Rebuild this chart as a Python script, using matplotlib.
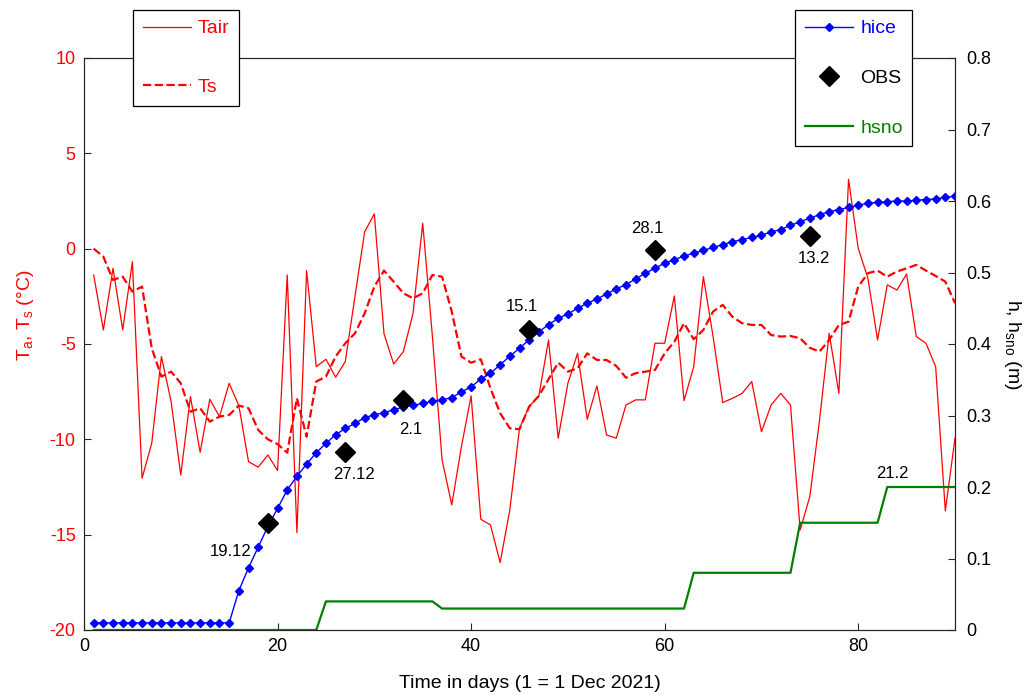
import matplotlib
matplotlib.use('Agg')
import matplotlib.pyplot as plt
import numpy as np

plt.rcParams['font.family'] = ['Liberation Sans', 'DejaVu Sans']
plt.rcParams['mathtext.default'] = 'regular'
plt.rcParams['axes.unicode_minus'] = False

# ---------------- data ----------------
days = list(range(1, 91))

tair = [-1.38, -4.26, -1.03, -4.26, -0.68, -12.04, -10.2, -5.66, -8.02, -11.87,
        -7.76, -10.68, -7.9, -8.81, -7.06, -8.23, -11.17, -11.46, -10.82, -11.64,
        -1.38, -14.89, -1.15, -6.19, -5.8, -6.74, -5.92, -2.5, 0.89, 1.82,
        -4.47, -6.05, -5.4, -3.39, 1.33, -4.6, -11.08, -13.44, -10.38, -7.72,
        -14.19, -14.49, -16.46, -13.7, -9.42, -8.28, -7.72, -4.79, -9.94, -7.06,
        -5.49, -8.95, -7.2, -9.77, -9.94, -8.2, -7.93, -7.93, -4.96, -4.96,
        -2.48, -7.97, -6.19, -1.47, -4.6, -8.07, -7.85, -7.59, -6.97, -9.6,
        -8.2, -7.59, -8.2, -14.75, -13.0, -9.0, -4.44, -7.59, 3.64, 0.02,
        -1.55, -4.79, -1.9, -2.17, -1.33, -4.61, -4.96, -6.19, -13.75, -9.94]

ts = [0.0, -0.42, -1.64, -1.47, -2.25, -1.99, -5.22, -6.71, -6.45, -7.06,
      -8.55, -8.37, -9.07, -8.81, -8.72, -8.23, -8.37, -9.51, -10.0, -10.25,
      -10.7, -7.85, -9.86, -6.97, -6.71, -5.66, -4.96, -4.44, -3.39, -1.99,
      -1.15, -1.73, -2.34, -2.6, -2.34, -1.38, -1.47, -3.3, -5.66, -5.98,
      -5.8, -7.32, -8.63, -9.42, -9.47, -8.28, -7.72, -6.85, -5.98, -6.45,
      -6.27, -5.49, -5.84, -5.84, -6.15, -6.77, -6.53, -6.45, -6.36, -5.49,
      -4.88, -3.91, -4.75, -4.26, -3.3, -2.95, -3.57, -3.91, -4.0, -4.0,
      -4.53, -4.61, -4.58, -4.7, -5.2, -5.4, -4.79, -4.0, -3.83, -1.99,
      -1.29, -1.15, -1.47, -1.2, -1.03, -0.85, -1.15, -1.43, -1.73, -2.86]

hice = [0.010, 0.010, 0.010, 0.010, 0.010, 0.010, 0.010, 0.010, 0.010, 0.010,
        0.010, 0.010, 0.010, 0.010, 0.010, 0.055, 0.087, 0.116, 0.145, 0.170,
        0.196, 0.215, 0.232, 0.248, 0.261, 0.273, 0.282, 0.289, 0.297, 0.301,
        0.304, 0.308, 0.312, 0.314, 0.317, 0.320, 0.322, 0.325, 0.333, 0.340,
        0.351, 0.359, 0.371, 0.383, 0.394, 0.406, 0.417, 0.427, 0.436, 0.442,
        0.450, 0.457, 0.463, 0.470, 0.477, 0.483, 0.491, 0.499, 0.506, 0.513,
        0.518, 0.523, 0.527, 0.531, 0.535, 0.539, 0.543, 0.546, 0.549, 0.552,
        0.557, 0.560, 0.566, 0.571, 0.576, 0.581, 0.585, 0.588, 0.591, 0.594,
        0.597, 0.598, 0.599, 0.600, 0.600, 0.601, 0.602, 0.603, 0.605, 0.607]

hsno = ([0.0] * 24 + [0.04] * 12 + [0.03] * 26 + [0.08] * 11 +
        [0.15] * 9 + [0.20] * 8)

obs_days = [19, 27, 33, 46, 59, 75]
obs_h = [0.150, 0.249, 0.321, 0.420, 0.531, 0.551]
obs_labels = ['19.12', '27.12', '2.1', '15.1', '28.1', '13.2']
obs_offsets = [(-37, -29), (9, -23), (7, -29), (-7, 23), (-8, 22), (4, -22)]

snow_label_day = 83
snow_label = '21.2'

xticks = [0, 20, 40, 60, 80]
yticks_left = [-20, -15, -10, -5, 0, 5, 10]
yticks_right = [0, 0.1, 0.2, 0.3, 0.4, 0.5, 0.6, 0.7, 0.8]
yticklabels_right = ['0', '0.1', '0.2', '0.3', '0.4', '0.5', '0.6', '0.7', '0.8']

# ---------------- figure ----------------
W, H = 1036, 698
fig = plt.figure(figsize=(W / 100, H / 100), dpi=100)
ax = fig.add_axes([84 / W, (H - 630) / H, 871 / W, 572 / H])
ax2 = ax.twinx()

RED = '#ff0000'
BLUE = '#0000ff'
GREEN = '#008000'
FRAME = '#262626'

l_tair, = ax.plot(days, tair, color=RED, lw=0.9, label='Tair')
l_ts, = ax.plot(days, ts, color=RED, lw=1.6, ls='--', label='Ts')
l_hice, = ax2.plot(days, hice, color=BLUE, lw=1.0, marker='D', ms=4.5,
                   label='hice')
l_obs, = ax2.plot(obs_days, obs_h, ls='none', marker='D', color='black',
                  ms=10, label='OBS')
l_hsno, = ax2.plot(days, hsno, color=GREEN, lw=1.6, label='hsno')

ax.set_xlim(0, 90)
ax.set_ylim(-20, 10)
ax2.set_ylim(0, 0.8)

ax.set_xticks(xticks)
ax.set_yticks(yticks_left)
ax2.set_yticks(yticks_right)
ax2.set_yticklabels(yticklabels_right)

ax.tick_params(axis='both', direction='in', length=5, width=0.8,
               color=FRAME, labelsize=13)
ax.tick_params(axis='x', pad=6)
ax.tick_params(axis='y', labelcolor=RED, pad=6)
ax2.tick_params(axis='y', direction='in', length=5, width=0.8,
                color=FRAME, labelsize=13, pad=8, labelcolor='black')

for a in (ax, ax2):
    for sp in a.spines.values():
        sp.set_color(FRAME)
        sp.set_linewidth(0.8)

ax.set_xlabel('Time in days (1 = 1 Dec 2021)', fontsize=14, va='center')
ax.xaxis.set_label_coords(0.512, -0.093)
ax.set_ylabel(r'T$_{a}$, T$_{s}$ (°C)', color=RED, fontsize=14,
              va='center', ha='center')
ax.yaxis.set_label_coords(-0.0666, 0.551)
ax2.set_ylabel(r'h, h$_{sno}$ (m)', fontsize=14, rotation=270,
               va='center', ha='center')
ax2.yaxis.set_label_coords(1.0655, 0.50)

for d, hv, lab, (dx, dy) in zip(obs_days, obs_h, obs_labels, obs_offsets):
    ax2.annotate(lab, (d, hv), xytext=(dx, dy), textcoords='offset pixels',
                 ha='center', va='center', fontsize=12)

ax2.annotate(snow_label, (snow_label_day, hsno[snow_label_day - 1]),
             xytext=(5, 13), textcoords='offset pixels',
             ha='center', va='center', fontsize=12)

common = dict(loc='upper left', borderaxespad=0, fontsize=14,
              handlelength=2.5, borderpad=0.5, fancybox=False,
              framealpha=1, edgecolor='black', labelcolor='linecolor',
              numpoints=1)
leg1 = fig.legend([l_tair, l_ts], ['Tair', 'Ts'],
                  bbox_to_anchor=(133 / W, 1 - 10 / H),
                  labelspacing=2.1, handletextpad=0.3, **common)
leg2 = fig.legend([l_hice, l_obs, l_hsno], ['hice', 'OBS', 'hsno'],
                  bbox_to_anchor=(795 / W, 1 - 10 / H),
                  labelspacing=1.65, handletextpad=0.35, **common)
for lg in (leg1, leg2):
    lg.get_frame().set_linewidth(0.9)

fig.savefig('out.png', dpi=100)
